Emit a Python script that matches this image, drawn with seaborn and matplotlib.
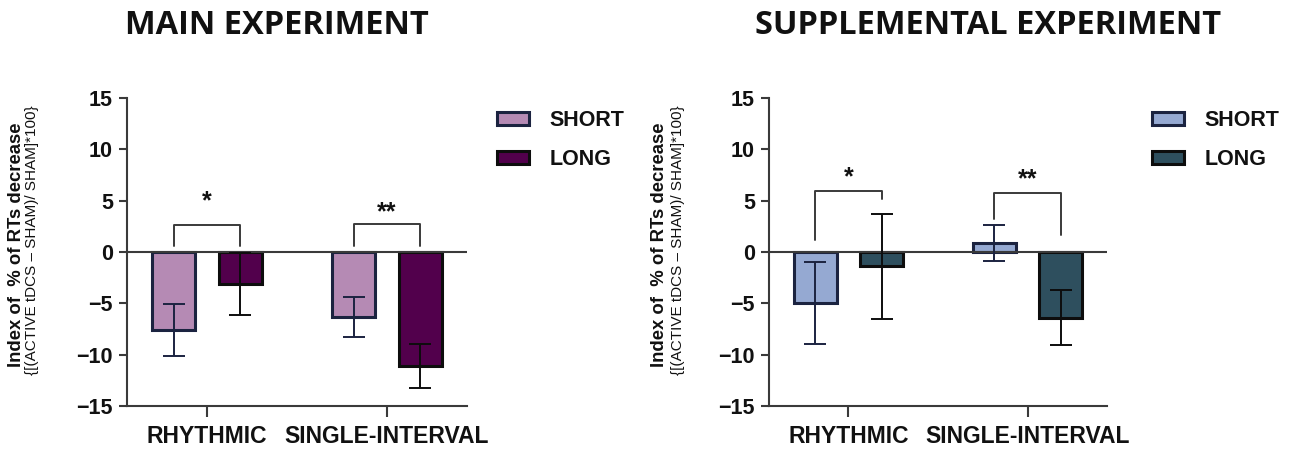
import matplotlib
matplotlib.use("Agg")
import matplotlib.pyplot as plt
import seaborn as sns
import pandas as pd

# ---- data -------------------------------------------------------------
conditions = ["RHYTHMIC", "SINGLE-INTERVAL"]
intervals = ["SHORT", "LONG"]

main_short = [-7.6, -6.3]
main_long = [-3.1, -11.1]
main_short_err = [2.5, 1.95]
main_long_err = [3.05, 2.1]

supp_short = [-4.95, 0.9]
supp_long = [-1.4, -6.4]
supp_short_err = [4.0, 1.75]
supp_long_err = [5.1, 2.7]

significance = ["*", "**"]

main_colors = ["#b58ab4", "#52004c"]
supp_colors = ["#95a9d2", "#2e4f5e"]
edge_colors = ["#1b2340", "#0d0d0d"]
axis_color = "#3a3a3a"

sns.set_theme(style="white")
plt.rcParams["font.family"] = ["Liberation Sans", "DejaVu Sans"]

fig = plt.figure(figsize=(12.97, 4.49), dpi=100)
ax_main = fig.add_axes([127 / 1297, 1 - 406 / 449, 340 / 1297, 308 / 449])
ax_supp = fig.add_axes([769 / 1297, 1 - 406 / 449, 338 / 1297, 308 / 449])


def frame(short, long_):
    return pd.DataFrame({
        "condition": conditions * 2,
        "interval": [intervals[0]] * 2 + [intervals[1]] * 2,
        "value": list(short) + list(long_),
    })


def draw_panel(ax, short, long_, s_err, l_err, colors, brackets, legend_xy):
    df = frame(short, long_)
    sns.barplot(data=df, x="condition", y="value", hue="interval",
                order=conditions, hue_order=intervals, palette=colors,
                width=0.74, gap=0.35, errorbar=None, ax=ax,
                linewidth=2.0, saturation=1.0, zorder=2)
    values = [short, long_]
    errors = [s_err, l_err]
    bar_groups = list(ax.containers)
    centers = []
    for k, cont in enumerate(bar_groups):
        xs = []
        for bar in cont:
            bar.set_edgecolor(edge_colors[k])
            bar.set_linewidth(2.2)
            xs.append(bar.get_x() + bar.get_width() / 2)
        centers.append(xs)
    for k in range(len(centers)):
        ax.errorbar(centers[k], values[k], yerr=errors[k], fmt="none",
                    ecolor=edge_colors[k], elinewidth=1.4, capsize=8,
                    capthick=1.4, zorder=4)

    ax.axhline(0, color=axis_color, lw=1.5, zorder=3)

    # significance brackets between SHORT and LONG of each condition
    for j, (top, left_foot, right_foot, star_y) in enumerate(brackets):
        x0, x1 = centers[0][j], centers[1][j]
        ax.plot([x0, x0, x1, x1], [left_foot, top, top, right_foot],
                color=axis_color, lw=1.4, zorder=3)
        ax.text((x0 + x1) / 2, star_y, significance[j], ha="center",
                va="center", fontsize=18, fontweight="bold", color="#111111")

    ax.set_ylim(-15, 15)
    ax.set_xlim(-0.444, 1.444)
    ax.set_yticks([15, 10, 5, 0, -5, -10, -15])
    ax.set_xlabel("")
    ax.set_ylabel("")
    for side in ["top", "right"]:
        ax.spines[side].set_visible(False)
    for side in ["left", "bottom"]:
        ax.spines[side].set_color(axis_color)
        ax.spines[side].set_linewidth(1.5)
    ax.tick_params(axis="y", which="major", length=6, width=1.5,
                   color=axis_color, pad=4, labelsize=15.5, left=True)
    ax.tick_params(axis="x", which="major", length=8, width=1.5,
                   color=axis_color, pad=6, labelsize=16.5, bottom=True)
    for lab in ax.get_xticklabels() + ax.get_yticklabels():
        lab.set_fontweight("bold")
        lab.set_color("#111111")

    leg = ax.legend(bar_groups, intervals, loc="upper left",
                    bbox_to_anchor=legend_xy, bbox_transform=fig.transFigure,
                    frameon=False, fontsize=15.5, handlelength=1.5,
                    handleheight=0.55, handletextpad=0.95, labelspacing=0.85,
                    borderpad=0, borderaxespad=0)
    for t in leg.get_texts():
        t.set_fontweight("bold")
        t.set_color("#111111")


draw_panel(ax_main, main_short, main_long, main_short_err, main_long_err,
           main_colors,
           [(2.65, 0.6, 0.6, 4.9), (2.7, 0.6, 0.6, 3.9)],
           (497 / 1297, 1 - 110 / 449))
draw_panel(ax_supp, supp_short, supp_long, supp_short_err, supp_long_err,
           supp_colors,
           [(5.9, 1.2, 5.2, 7.3), (5.7, 3.2, 1.7, 7.1)],
           (1152 / 1297, 1 - 110 / 449))

# panel titles
title_font = dict(fontsize=23.5, fontweight="bold", family=["Open Sans", "DejaVu Sans"],
                  color="#111111", ha="center", va="center")
fig.text(276.5 / 1297, 1 - 26 / 449, "MAIN EXPERIMENT", **title_font)
fig.text(988 / 1297, 1 - 26 / 449, "SUPPLEMENTAL EXPERIMENT", **title_font)

# y-axis labels (two lines each)
for x_bold, x_thin in [(17, 32), (660, 678)]:
    fig.text(x_bold / 1297, 1 - 245 / 449, "Index of  % of RTs decrease",
             rotation=90, ha="center", va="center", fontsize=13.3,
             fontweight="bold", color="#111111")
    fig.text(x_thin / 1297, 1 - 240 / 449, "{[(ACTIVE tDCS \u2013 SHAM)/ SHAM]*100}",
             rotation=90, ha="center", va="center", fontsize=11,
             color="#111111")

fig.savefig("out.png", dpi=100, facecolor="white")
